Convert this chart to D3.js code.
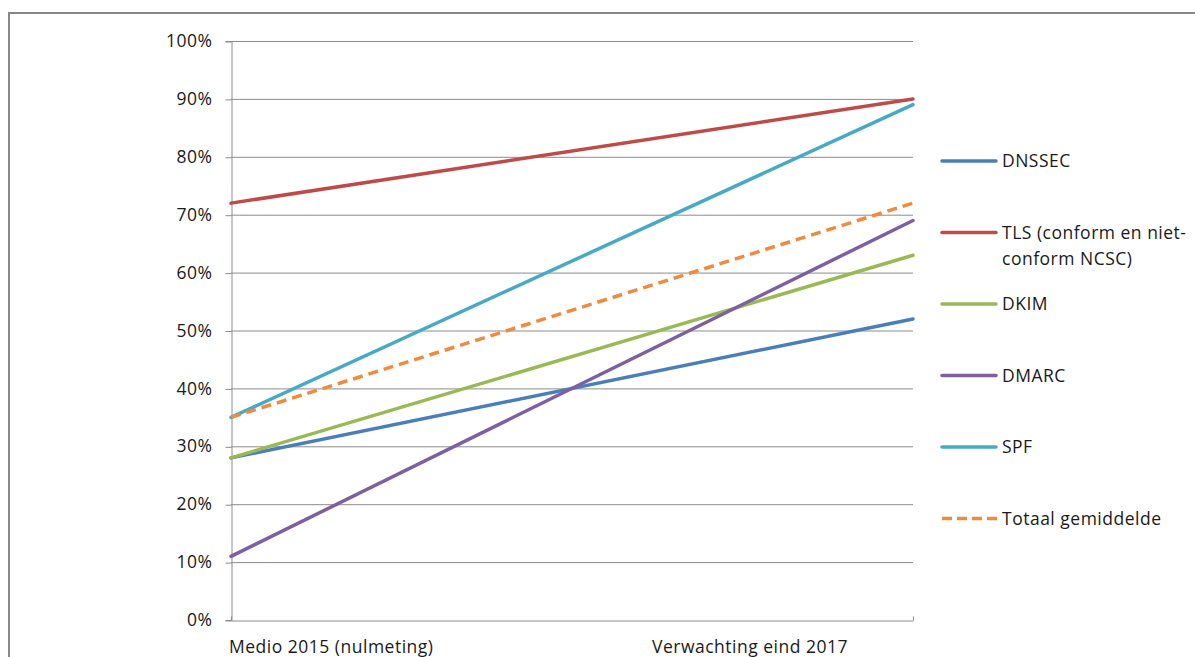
<!DOCTYPE html>
<html>
<head>
<meta charset="utf-8">
<script src="https://cdn.jsdelivr.net/npm/d3@7"></script>
<style>
  body { margin: 0; background: #fff; }
  text { font-family: "Open Sans", Lato, sans-serif; fill: #1a1a1a; letter-spacing: 0.5px; }
</style>
</head>
<body>
<script>
// chart values
const categories = ["Medio 2015 (nulmeting)", "Verwachting eind 2017"];
const seriesNames = ["DNSSEC", "TLS (conform en niet-conform NCSC)", "DKIM", "DMARC", "SPF", "Totaal gemiddelde"];
const legendLines = [["DNSSEC"], ["TLS (conform en niet-", "conform NCSC)"], ["DKIM"], ["DMARC"], ["SPF"], ["Totaal gemiddelde"]];
const dnssec = [0.28, 0.52];
const tls = [0.72, 0.90];
const dkim = [0.28, 0.63];
const dmarc = [0.11, 0.69];
const spf = [0.35, 0.89];
const totaal = [0.35, 0.72];
const yTicks = [0, 0.1, 0.2, 0.3, 0.4, 0.5, 0.6, 0.7, 0.8, 0.9, 1.0];
const colors = ["#4A7EBB", "#BE4B48", "#98B954", "#7D60A0", "#46AAC5", "#F08A3C"];

const w = 1195;
const h = 657;
const margin = {top: 41, left: 231, right: 282, bottom: 37};
const fontSize = "17.5px";

const svg = d3.select("body")
            .append("svg")
            .attr("width", w)
            .attr("height", h);

// outer frame
svg.append("path")
    .attr("d", "M9," + h + "V13H" + w)
    .attr("fill", "none")
    .attr("stroke", "#888")
    .attr("stroke-width", 2);

const xScale = d3.scalePoint()
                .domain(categories)
                .range([margin.left, w - margin.right]);

const yScale = d3.scaleLinear()
                .domain([0, 1])
                .range([h - margin.bottom, margin.top]);

// gridlines
svg.append("g")
    .selectAll("line")
    .data(yTicks.slice(1))
    .join("line")
    .attr("x1", margin.left)
    .attr("x2", w - margin.right)
    .attr("y1", d => yScale(d) + 0.5)
    .attr("y2", d => yScale(d) + 0.5)
    .attr("stroke", "#8c8c8c")
    .attr("stroke-width", 1);

// y axis
const yAxis = svg.append("g")
    .attr("transform", "translate(" + (margin.left + 0.5) + ",0)")
    .call(d3.axisLeft(yScale).tickValues(yTicks).tickFormat(d3.format(".0%")).tickSize(6).tickPadding(13));
yAxis.select(".domain").attr("stroke", "#8c8c8c");
yAxis.selectAll(".tick line").attr("stroke", "#8c8c8c").attr("transform", "translate(0,0.5)");
yAxis.selectAll("text")
    .attr("font-size", fontSize)
    .attr("font-family", "'Open Sans', sans-serif")
    .attr("fill", "#1a1a1a");

// x axis
const xAxis = svg.append("g")
    .attr("transform", "translate(0," + (h - margin.bottom + 0.5) + ")")
    .call(d3.axisBottom(xScale).tickSize(-4).tickSizeOuter(0).tickFormat(""));
xAxis.select(".domain").attr("stroke", "#8c8c8c");
xAxis.selectAll(".tick line").attr("stroke", "#8c8c8c");

// category labels
svg.append("g")
    .selectAll("text")
    .data(categories)
    .join("text")
    .attr("x", (d, i) => i === 0 ? xScale(d) - 2 : xScale(d) - 65)
    .attr("y", h - 4)
    .attr("text-anchor", (d, i) => i === 0 ? "start" : "end")
    .attr("font-size", fontSize)
    .text(d => d);

// series lines
const allSeries = [dnssec, tls, dkim, dmarc, spf, totaal];
const line = d3.line()
    .x((d, i) => xScale(categories[i]))
    .y(d => yScale(d));

svg.append("g")
    .selectAll("path")
    .data(allSeries)
    .join("path")
    .attr("d", d => line(d))
    .attr("fill", "none")
    .attr("stroke", (d, i) => colors[i])
    .attr("stroke-width", 3.5)
    .attr("stroke-linecap", (d, i) => i === 5 ? "butt" : "round")
    .attr("stroke-dasharray", (d, i) => i === 5 ? "10,6" : null);

// legend
const legend = svg.append("g")
    .selectAll("g")
    .data(seriesNames)
    .join("g")
    .attr("transform", (d, i) => "translate(942," + (161 + i * 71.5) + ")");

legend.append("line")
    .attr("x1", 0)
    .attr("x2", (d, i) => i === 5 ? 56 : 54)
    .attr("stroke", (d, i) => colors[i])
    .attr("stroke-width", 3.5)
    .attr("stroke-linecap", (d, i) => i === 5 ? "butt" : "round")
    .attr("stroke-dasharray", (d, i) => i === 5 ? "10,5" : null);

legend.append("text")
    .attr("x", 60)
    .attr("y", 6)
    .attr("font-size", fontSize)
    .selectAll("tspan")
    .data((d, i) => legendLines[i])
    .join("tspan")
    .attr("x", 60)
    .attr("dy", (d, j) => j === 0 ? 0 : 26)
    .text(d => d);
</script>
</body>
</html>
